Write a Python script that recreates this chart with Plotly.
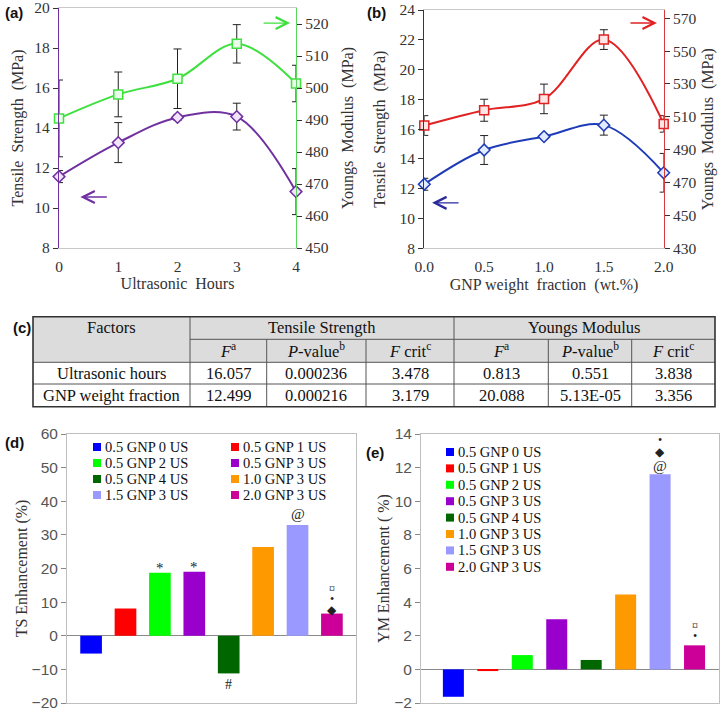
import plotly.graph_objects as go

# ---------------- data ----------------
us_hours = [0, 1, 2, 3, 4]
ts_us = [11.57, 13.27, 14.53, 14.57, 10.82]
ts_us_err = [0.3, 1.0, 0.15, 0.67, 1.15]
ym_us = [490.5, 498.0, 502.9, 513.8, 501.4]
ym_us_err = [12.0, 7.0, 9.3, 6.0, 5.7]

gnp_frac = [0.0, 0.5, 1.0, 1.5, 2.0]
ts_gnp = [12.3, 14.6, 15.5, 16.27, 13.07]
ts_gnp_err = [0.4, 0.97, 0.1, 0.67, 1.3]
ym_gnp = [504.7, 514.0, 520.9, 557.0, 505.7]
ym_gnp_err = [6.0, 6.7, 9.0, 6.0, 5.0]

bar_names = ["0.5 GNP 0 US", "0.5 GNP 1 US", "0.5 GNP 2 US", "0.5 GNP 3 US",
             "0.5 GNP 4 US", "1.0 GNP 3 US", "1.5 GNP 3 US", "2.0 GNP 3 US"]
bar_colors = ["#0000FF", "#FF0000", "#00FF00", "#9900CC",
              "#006600", "#FF9900", "#9999FF", "#CC0099"]
ts_enh = [-5.3, 8.1, 18.7, 19.0, -11.2, 26.4, 32.9, 6.6]
ym_enh = [-1.63, -0.1, 0.85, 2.98, 0.56, 4.46, 11.6, 1.43]
ts_marks = [[], [], ["*"], ["*"], ["#"], [], ["@"], ["◆", "•", "¤"]]
ym_marks = [[], [], [], [], [], [], ["@", "◆", "•"], ["•", "¤"]]

tbl_factors = ["Ultrasonic hours", "GNP weight fraction"]
tbl_groups = ["Tensile Strength", "Youngs Modulus"]
tbl_sub = ["<i>F</i><sup>a</sup>", "<i>P</i>-value<sup>b</sup>", "<i>F</i> crit<sup>c</sup>"]
ts_F = ["16.057", "12.499"]
ts_P = ["0.000236", "0.000216"]
ts_Fc = ["3.478", "3.179"]
ym_F = ["0.813", "20.088"]
ym_P = ["0.551", "5.13E-05"]
ym_Fc = ["3.838", "3.356"]

# ---------------- helpers ----------------
W, H = 725, 709
def px(x): return x / W
def py(y): return 1 - y / H

SERIF = "Liberation Serif, Times New Roman, serif"
SANS = "Liberation Sans, Arial, sans-serif"
PURPLE = "#7030A0"
GREEN = "#3ee03e"
BLUE = "#1f3cb8"
RED = "#e02222"
NAVY = "#2b2b9b"

fig = go.Figure()

def err(arr):
    return dict(type="data", array=arr, color="#222", thickness=1, width=4)

def line_trace(x, y, e, color, fill, symbol, xa, ya):
    return go.Scatter(x=x, y=y, error_y=err(e), mode="lines+markers",
                      line=dict(color=color, width=2, shape="spline", smoothing=1),
                      marker=dict(symbol=symbol, size=9, color=fill, line=dict(color=color, width=1.5)),
                      cliponaxis=False, showlegend=False, xaxis=xa, yaxis=ya)

# (a)
fig.add_trace(line_trace(us_hours, ts_us, ts_us_err, PURPLE, "#f1e4fb", "diamond", "x", "y"))
fig.add_trace(line_trace(us_hours, ym_us, ym_us_err, GREEN, "#eaffea", "square", "x", "y2"))
# (b)
fig.add_trace(line_trace(gnp_frac, ts_gnp, ts_gnp_err, BLUE, "#e2ebff", "diamond", "x2", "y3"))
fig.add_trace(line_trace(gnp_frac, ym_gnp, ym_gnp_err, RED, "#ffe6e6", "square", "x2", "y4"))
# (d), (e)
idx = list(range(len(bar_names)))
fig.add_trace(go.Bar(x=idx, y=ts_enh, marker=dict(color=bar_colors, line=dict(width=0)), width=0.63,
                     showlegend=False, xaxis="x3", yaxis="y5"))
fig.add_trace(go.Bar(x=idx, y=ym_enh, marker=dict(color=bar_colors, line=dict(width=0)), width=0.61,
                     showlegend=False, xaxis="x4", yaxis="y6"))

tickfont = dict(family=SERIF, size=15.5, color="#333")
titlefont = dict(family=SERIF, size=16, color="#333")
NB = "\u00a0"

def yax(domain, rng, tickvals, color, title, side="left", overlay=None, anchor=None, standoff=6):
    d = dict(domain=domain, range=rng, tickvals=tickvals, showline=True, linecolor=color, linewidth=1.3,
             ticks="outside", ticklen=5, tickcolor="#333", showgrid=False, zeroline=False, automargin=False,
             ticklabeloverflow="allow",
             tickfont=tickfont, title=dict(text=title, font=titlefont, standoff=standoff), side=side)
    if overlay:
        d["overlaying"] = overlay
    if anchor:
        d["anchor"] = anchor
    return d

def xax(domain, rng, tickvals, anchor, title, fmt=None):
    d = dict(domain=domain, range=rng, tickvals=tickvals, anchor=anchor, automargin=False,
             showline=True, mirror=True, linecolor="#c8c8c8", ticks="", showgrid=False, zeroline=False,
             tickfont=tickfont, ticklabelstandoff=4, ticklabeloverflow="allow",
             title=dict(text=title, font=titlefont, standoff=4))
    if fmt:
        d["tickformat"] = fmt
    return d

def bar_y(domain, rng, dt, anchor, title, standoff):
    return dict(domain=domain, range=rng, dtick=dt, anchor=anchor, automargin=False,
                showline=True, mirror=True, linecolor="#bfbfbf", ticks="outside", ticklen=5, tickcolor="#888",
                showgrid=False, zeroline=True, zerolinecolor="#8a8a8a", zerolinewidth=1,
                ticklabeloverflow="allow",
                tickfont=dict(family=SANS, size=15.5, color="#555"),
                title=dict(text=title, font=titlefont, standoff=standoff))

def bar_x(domain, rng, anchor):
    return dict(domain=domain, range=rng, anchor=anchor, showticklabels=False, automargin=False,
                showline=True, mirror=True, linecolor="#bfbfbf", ticks="", showgrid=False, zeroline=False)

ya_dom = [py(248), py(8)]
yb_dom = [py(248.3), py(10)]
bar_dom = [py(703), py(434)]
layout = dict(
    width=W, height=H, margin=dict(l=0, r=0, t=0, b=0, autoexpand=False), autosize=False,
    paper_bgcolor="white", plot_bgcolor="white", barmode="overlay",
    xaxis=xax([px(59), px(296)], [0, 4], us_hours, "y", "Ultrasonic" + NB + " Hours"),
    yaxis=yax(ya_dom, [8, 20], [8, 10, 12, 14, 16, 18, 20], PURPLE,
              "Tensile" + NB + " Strength" + NB + " (MPa)", anchor="x"),
    yaxis2=yax(ya_dom, [450, 525], [450, 460, 470, 480, 490, 500, 510, 520], "#5ad75a",
               "Youngs" + NB + " Modulus" + NB + " (MPa)", side="right", overlay="y", anchor="x", standoff=14),
    xaxis2=xax([px(424.3), px(663.7)], [0, 2], gnp_frac, "y3",
               "GNP weight" + NB + " fraction" + NB + " (wt.%)", fmt=".1f"),
    yaxis3=yax(yb_dom, [8, 24], [8, 10, 12, 14, 16, 18, 20, 22, 24], NAVY,
               "Tensile" + NB + " Strength" + NB + " (MPa)", anchor="x2", standoff=9),
    yaxis4=yax(yb_dom, [430, 575], [430, 450, 470, 490, 510, 530, 550, 570], "#d83a3a",
               "Youngs" + NB + " Modulus" + NB + " (MPa)", side="right", overlay="y3", anchor="x2"),
    xaxis3=bar_x([px(67), px(356)], [-0.7, 7.7], "y5"),
    yaxis5=bar_y(bar_dom, [-20, 60], 10, "x3", "TS Enhancement (%)", 0),
    xaxis4=bar_x([px(421), px(719)], [-0.94, 7.71], "y6"),
    yaxis6=bar_y(bar_dom, [-2, 14], 2, "x4", "YM Enhancement ( %)", 0),
)
fig.update_layout(**layout)

annotations = []
shapes = []

# panel labels
for lab, x, y in [("(a)", 3, 13), ("(b)", 365, 13), ("(c)", 11, 328), ("(d)", 3, 442), ("(e)", 364, 452)]:
    annotations.append(dict(text="<b>" + lab + "</b>", x=px(x), y=py(y), xref="paper", yref="paper",
                            xanchor="left", yanchor="middle", showarrow=False,
                            font=dict(family=SANS, size=15, color="#111")))

# arrows in (a) and (b)
def arrow(x, y, xr, yr, ax, color):
    return dict(x=x, y=y, xref=xr, yref=yr, ax=ax, ay=0, text="", showarrow=True,
                arrowhead=5, arrowsize=1.8, arrowwidth=1.3, arrowcolor=color)
annotations.append(arrow(0.36, 10.55, "x", "y", 28, PURPLE))
annotations.append(arrow(3.9, 520.3, "x", "y2", -28, GREEN))
annotations.append(arrow(0.065, 11.05, "x2", "y3", 28, NAVY))
annotations.append(arrow(1.944, 567.1, "x2", "y4", -28, RED))

# symbols on bars (pixel offsets from bar end, in stacking order)
sym_size = {"@": 15, "*": 15, "#": 14, "◆": 12, "•": 12, "¤": 12}
def add_marks(marks, vals, xr, yr, offsets):
    for i, ms in enumerate(marks):
        sgn = 1 if vals[i] >= 0 else -1
        for k, m in enumerate(ms):
            annotations.append(dict(text=m, x=i, y=vals[i], xref=xr, yref=yr, showarrow=False,
                                    xanchor="center", yanchor="middle", yshift=sgn * offsets[i][k],
                                    font=dict(family=SERIF, size=sym_size[m], color="#222")))
add_marks(ts_marks, ts_enh, "x3", "y5", {2: [5], 3: [5], 4: [11], 6: [11], 7: [4, 15, 25]})
add_marks(ym_marks, ym_enh, "x4", "y6", {6: [8, 22, 34], 7: [9, 19]})

# manual legends
LF = dict(family=SERIF, size=14.5, color="#111")
def legend_item(cx, cy, nm, col):
    shapes.append(dict(type="rect", xref="paper", yref="paper", x0=px(cx - 4), x1=px(cx + 4),
                       y0=py(cy + 4), y1=py(cy - 4), fillcolor=col, line=dict(width=0)))
    annotations.append(dict(text=nm, x=px(cx + 6), y=py(cy), xref="paper", yref="paper", showarrow=False,
                            xanchor="left", yanchor="middle", font=LF))
for i, (nm, col) in enumerate(zip(bar_names, bar_colors)):
    legend_item(97 + (i % 2) * 138, 447 + 16 * (i // 2), nm, col)   # (d): two columns
    legend_item(450, 452 + 16.4 * i, nm, col)                        # (e): one column

# table (c)
cols = [33, 190, 266.7, 366, 454, 548.3, 631.7, 715]
rows = [316.7, 339.3, 362.3, 384, 406.7]
TF = dict(family=SERIF, size=16.5, color="#111")
def tline(x0, y0, x1, y1, w=1, c="#555"):
    shapes.append(dict(type="line", xref="paper", yref="paper", x0=px(x0), y0=py(y0), x1=px(x1), y1=py(y1),
                       line=dict(color=c, width=w)))
shapes.append(dict(type="rect", xref="paper", yref="paper", x0=px(cols[0]), x1=px(cols[-1]),
                   y0=py(rows[2]), y1=py(rows[0]), fillcolor="#dcdcdc", line=dict(width=0), layer="below"))
tline(cols[1], rows[1], cols[-1], rows[1])
tline(cols[0], rows[2], cols[-1], rows[2])
tline(cols[0], rows[3], cols[-1], rows[3])
tline(cols[1], rows[0], cols[1], rows[-1])
tline(cols[4], rows[0], cols[4], rows[-1])
for c in [cols[2], cols[3], cols[5], cols[6]]:
    tline(c, rows[1], c, rows[-1])
shapes.append(dict(type="rect", xref="paper", yref="paper", x0=px(cols[0]), x1=px(cols[-1]),
                   y0=py(rows[-1]), y1=py(rows[0]), line=dict(color="#333", width=1.6)))

def cell(text, c0, c1, r0, r1):
    annotations.append(dict(text=text, x=px((c0 + c1) / 2), y=py((r0 + r1) / 2), xref="paper", yref="paper",
                            showarrow=False, xanchor="center", yanchor="middle", font=TF))
cell("Factors", cols[0], cols[1], rows[0], rows[1])
cell(tbl_groups[0], cols[1], cols[4], rows[0], rows[1])
cell(tbl_groups[1], cols[4], cols[7], rows[0], rows[1])
for j, s in enumerate(tbl_sub):
    cell(s, cols[1 + j], cols[2 + j], rows[1], rows[2])
    cell(s, cols[4 + j], cols[5 + j], rows[1], rows[2])
for r in range(2):
    vals = [tbl_factors[r], ts_F[r], ts_P[r], ts_Fc[r], ym_F[r], ym_P[r], ym_Fc[r]]
    for j, v in enumerate(vals):
        cell(v, cols[j], cols[j + 1], rows[2 + r], rows[3 + r])

fig.update_layout(annotations=annotations, shapes=shapes)
fig.write_html("out.html", config={"displayModeBar": False},
               post_script="document.body.style.margin='0px';document.body.style.overflow='hidden';")
